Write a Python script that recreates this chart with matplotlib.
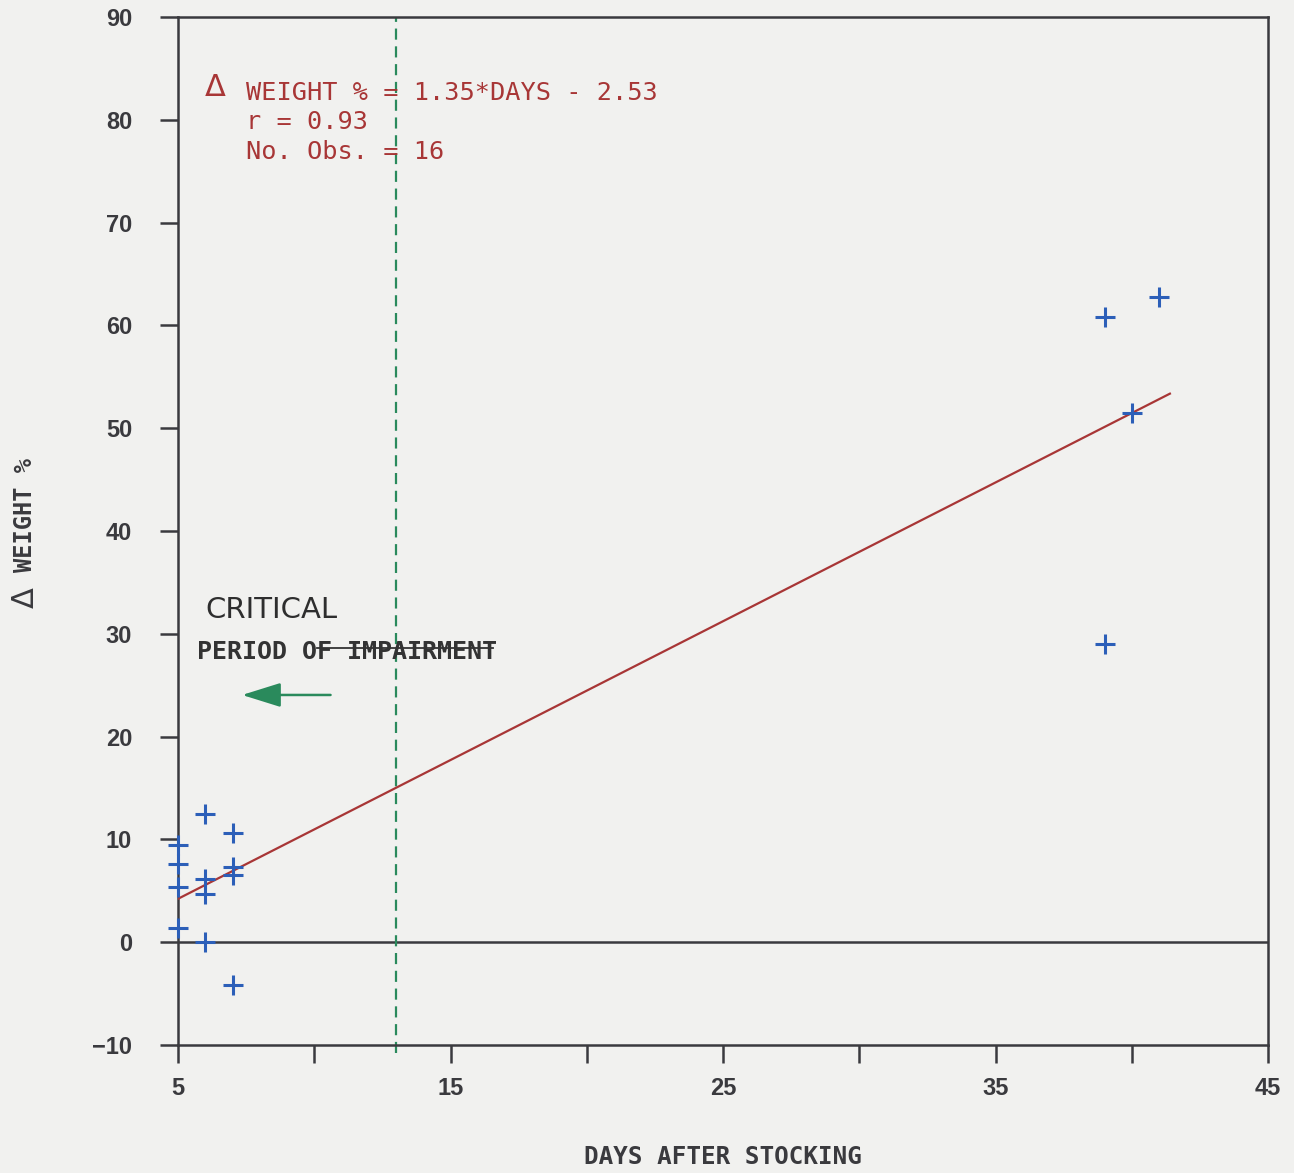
import numpy as np
import matplotlib.pyplot as plt

days = [5, 5, 5, 5, 6, 6, 6, 6, 7, 7, 7, 7, 39, 41, 40, 39]
weight_pct = [9.5, 7.6, 5.4, 1.4, 12.5, 6.1, 4.7, 0.0,
              10.6, 7.3, 6.5, -4.2, 60.8, 62.8, 51.5, 29.0]

# regression line
slope = 1.35
intercept = -2.53
fit_days = [5, 41.4]

critical_day = 13

x_ticks = [5, 10, 15, 20, 25, 30, 35, 40, 45]
x_ticklabels = ['5', '', '15', '', '25', '', '35', '', '45']
y_ticks = list(range(-10, 91, 10))

bg = '#f1f1ef'
ink = '#3a3a3e'
red = '#a83636'
blue = '#2c5fb8'
green = '#2a8a5c'

fig = plt.figure(figsize=(12.94, 11.73), dpi=100, facecolor=bg)
ax = fig.add_axes([178 / 1294, 128 / 1173, 1090 / 1294, 1028 / 1173])
ax.set_facecolor(bg)

ax.set_xlim(5, 45)
ax.set_ylim(-10, 90)

# zero line
ax.axhline(0, color=ink, lw=1.8, zorder=2)

# critical period
ax.plot([critical_day, critical_day], [-10.8, 90], color=green, lw=1.6,
        linestyle=(0, (5, 3)), clip_on=False, zorder=2)

# fitted line
fit_y = [slope * d + intercept for d in fit_days]
ax.plot(fit_days, fit_y, color=red, lw=1.6, zorder=3)

# points
ax.plot(days, weight_pct, linestyle='none', marker='+', markersize=14,
        mew=2.2, color=blue, zorder=4, clip_on=False)

# frame and ticks
for s in ax.spines.values():
    s.set_color(ink)
    s.set_linewidth(1.8)
ax.set_xticks(x_ticks)
ax.set_xticklabels(x_ticklabels)
ax.set_yticks(y_ticks)
ax.tick_params(direction='out', length=13, width=1.8, color=ink,
               labelsize=17, labelcolor=ink)
ax.tick_params(axis='x', pad=10)
ax.tick_params(axis='y', pad=20)
for lab in ax.get_xticklabels() + ax.get_yticklabels():
    lab.set_fontweight('bold')
    lab.set_family('Liberation Sans')

ax.set_xlabel('DAYS AFTER STOCKING', fontsize=17.5, family='DejaVu Sans Mono',
              fontweight='bold', color=ink)
ax.xaxis.set_label_coords(0.5, -0.097)

# y label: big delta then WEIGHT %
fig.text(25 / 1294, 1 - 598 / 1173, '\u0394', fontsize=22, color=ink,
         family='DejaVu Sans', rotation=90, ha='center', va='center')
fig.text(25 / 1294, 1 - 515 / 1173, 'WEIGHT %', fontsize=17,
         family='DejaVu Sans Mono', fontweight='bold', color=ink,
         rotation=90, ha='center', va='center')

# equation block
ax.text(6.35, 83.1, '\u0394', fontsize=22, color=red, ha='center', va='center',
        family='DejaVu Sans')
eq_lines = ['WEIGHT % = 1.35*DAYS - 2.53', 'r = 0.93', 'No. Obs. = 16']
for i, line in enumerate(eq_lines):
    ax.text(7.5, 82.6 - i * 2.85, line, fontsize=18.2, color=red,
            family='DejaVu Sans Mono', va='center', ha='left')

# handwritten notes
ax.text(6.0, 32.3, 'CRITICAL', fontsize=21, color='#2e2e2e',
        family='DejaVu Sans', va='center', ha='left')
ax.text(5.7, 28.2, 'PERIOD OF IMPAIRMENT', fontsize=18, color='#333333',
        family='DejaVu Sans Mono', fontweight='bold', va='center', ha='left')
ax.plot([10.1, 16.55], [28.65, 28.65], color='#333333', lw=1.3)
ax.annotate('', xy=(7.25, 24.05), xytext=(10.7, 24.05),
            arrowprops=dict(arrowstyle='-|>,head_length=2.4,head_width=0.75',
                            color=green, lw=1.8))

fig.savefig('out.png', dpi=100, facecolor=bg)
